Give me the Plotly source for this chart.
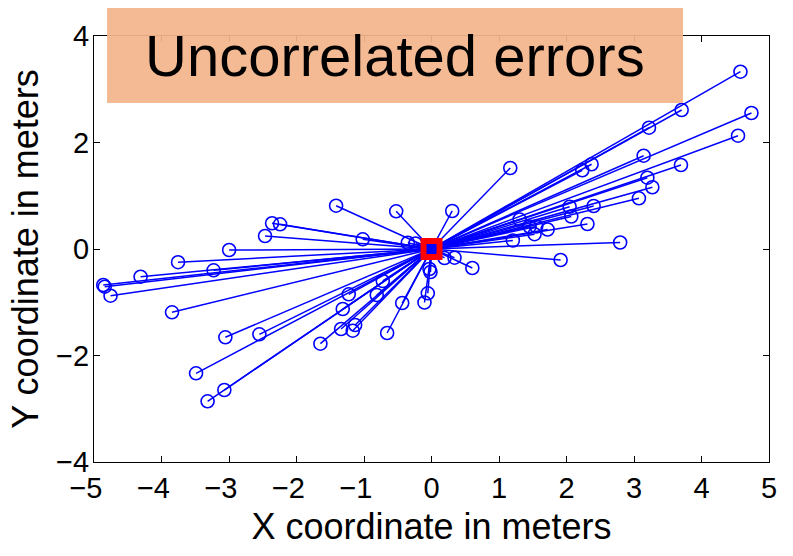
import plotly.graph_objects as go

# Estimated position error vectors (meters), each drawn from the true position (0, 0)
err_x = [4.577, 4.740, 3.706, 3.222, 4.541, 3.143, 3.696, 3.198, 3.272, 3.073,
         2.372, 2.234, 1.167, 0.307, 1.305, 2.046, 2.071, 2.402, 2.310, 1.720,
         1.527, 1.453, 1.552, 1.205, 2.795, 1.913, 0.605, 0.341, 0.193, -0.030,
         -0.015, -0.055, -0.104, -1.413, -0.523, -2.362, -2.243, -2.466, -1.019, -0.351,
         -0.237, -2.998, -3.755, -3.228, -4.310, -4.863, -4.841, -4.755, -3.844, -3.054,
         -2.550, -3.488, -3.069, -3.317, -1.646, -1.339, -1.167, -1.131, -0.657, -1.315,
         -1.226, -0.811, -0.722, -0.434]
err_y = [3.330, 2.554, 2.610, 2.278, 2.128, 1.752, 1.577, 1.339, 1.159, 0.952,
         1.591, 1.478, 1.521, 0.714, 0.554, 0.794, 0.610, 0.808, 0.469, 0.366,
         0.278, 0.423, 0.423, 0.160, 0.122, -0.207, -0.357, -0.163, -0.169, -0.376,
         -0.432, -0.832, -1.005, 0.813, 0.708, 0.483, 0.464, 0.244, 0.182, 0.118,
         0.103, -0.019, -0.248, -0.400, -0.520, -0.676, -0.708, -0.877, -1.189, -1.658,
         -1.602, -2.334, -2.648, -2.860, -1.778, -1.502, -1.534, -1.427, -1.577, -1.127,
         -0.851, -0.864, -0.601, -1.014]
true_x = [0.0]
true_y = [0.0]

x_ticks = [-5, -4, -3, -2, -1, 0, 1, 2, 3, 4, 5]
y_ticks = [-4, -2, 0, 2, 4]
title_text = "Uncorrelated errors"
x_title = "X coordinate in meters"
y_title = "Y coordinate in meters"

BLUE = "#0000FF"
AXFONT = "Liberation Sans, Arial, sans-serif"


def tick_label(v, pad_negative):
    s = str(v).replace("-", "\u2212")
    # MATLAB keeps the digit on the tick, so negative labels sit a bit to the left
    if pad_negative and v < 0:
        s = s + "\u2007"
    return s


# segments from the true position to every estimate
seg_x, seg_y = [], []
for ex, ey in zip(err_x, err_y):
    seg_x += [true_x[0], ex, None]
    seg_y += [true_y[0], ey, None]

fig = go.Figure()
fig.add_trace(go.Scatter(x=seg_x, y=seg_y, mode="lines",
                         line=dict(color=BLUE, width=1.5),
                         hoverinfo="skip", showlegend=False))
fig.add_trace(go.Scatter(x=err_x, y=err_y, mode="markers",
                         marker=dict(symbol="circle-open", size=13, color=BLUE,
                                     line=dict(color=BLUE, width=1.6)),
                         showlegend=False))
fig.add_trace(go.Scatter(x=true_x, y=true_y, mode="markers",
                         marker=dict(symbol="square", size=16, color=BLUE,
                                     line=dict(color="#FF0000", width=6)),
                         showlegend=False))

axis_common = dict(showgrid=False, zeroline=False, showline=True, linecolor="black",
                   linewidth=1, mirror="allticks", ticks="inside", ticklen=6,
                   tickcolor="black", tickwidth=1,
                   tickfont=dict(family=AXFONT, size=29, color="black"))

fig.update_layout(
    width=793, height=556,
    margin=dict(l=94, r=24, t=36, b=94),
    paper_bgcolor="white", plot_bgcolor="white",
    xaxis=dict(range=[-5, 5], tickvals=x_ticks,
               ticktext=[tick_label(v, True) for v in x_ticks],
               ticklabelstandoff=0,
               title=dict(text=x_title, font=dict(family=AXFONT, size=36, color="black"), standoff=11),
               **axis_common),
    yaxis=dict(range=[-4, 4], tickvals=y_ticks,
               ticktext=[tick_label(v, False) for v in y_ticks],
               ticklabelstandoff=-2,
               title=dict(text=y_title, font=dict(family=AXFONT, size=36, color="black"), standoff=6),
               **axis_common),
    shapes=[dict(type="rect", xref="paper", yref="paper",
                 x0=0.0193, x1=0.8726, y0=0.8427, y1=1.0657,
                 fillcolor="#F3B58B", line=dict(width=0), opacity=0.93, layer="above")],
    annotations=[dict(text=title_text, xref="paper", yref="paper",
                      x=0.4459, y=0.954, xanchor="center", yanchor="middle",
                      showarrow=False,
                      font=dict(family="Liberation Sans, Arial, sans-serif", size=58, color="black"))],
)

fig.write_html("out.html")
